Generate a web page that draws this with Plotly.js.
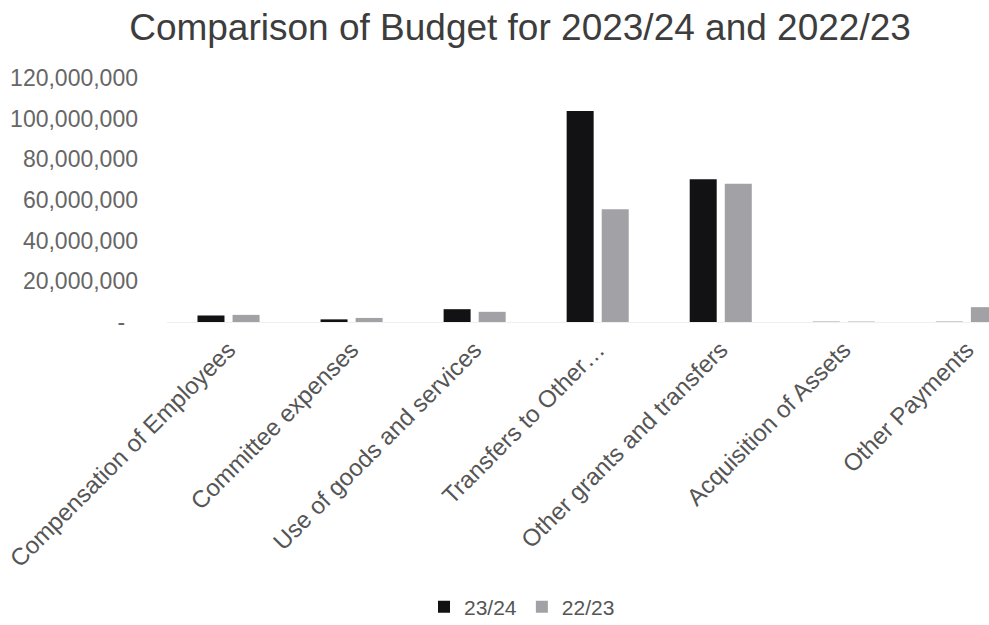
<!DOCTYPE html>
<html>
<head>
<meta charset="utf-8">
<script src="https://cdn.plot.ly/plotly-3.0.1.min.js"></script>
<style>
html,body{margin:0;padding:0;overflow:hidden;background:#fff;}
#chart{width:989px;height:625px;}
</style>
</head>
<body>
<div id="chart"></div>
<script>
const categories = [
  "Compensation of Employees",
  "Committee expenses",
  "Use of goods and services",
  "Transfers to Other…",
  "Other grants and transfers",
  "Acquisition of Assets",
  "Other Payments"
];
const budget2324 = [3200000, 1300000, 6300000, 103800000, 70200000, 100000, 100000];
const budget2223 = [3500000, 2000000, 5000000, 55400000, 68000000, 200000, 7300000];
const yTickVals = [0, 20000000, 40000000, 60000000, 80000000, 100000000, 120000000];
const yTickText = ["-\u00a0\u00a0", "20,000,000", "40,000,000", "60,000,000", "80,000,000", "100,000,000", "120,000,000"];

const traces = [
  {type: "bar", name: "23/24", x: categories.map((c, i) => i), y: budget2324,
   marker: {color: "#121214"}, hoverinfo: "y"},
  {type: "bar", name: "22/23", x: categories.map((c, i) => i), y: budget2223,
   marker: {color: "#a2a2a6"}, hoverinfo: "y"}
];

const layout = {
  width: 989, height: 625,
  paper_bgcolor: "#fff", plot_bgcolor: "#fff",
  margin: {l: 167, r: 0, t: 78, b: 303, pad: 0},
  font: {family: "Liberation Sans, Arial, sans-serif", color: "#595959"},
  title: {text: "Comparison of Budget for 2023/24 and 2022/23",
          font: {size: 37, color: "#3d3d3d"},
          xref: "container", x: 520/989, xanchor: "center",
          yref: "container", y: 1 - 27/625, yanchor: "middle"},
  barmode: "group",
  bargap: 0.43,
  bargroupgap: 0.23,
  xaxis: {
    range: [-0.5, 6.18],
    tickvals: categories.map((c, i) => i),
    ticktext: categories,
    tickangle: -45,
    tickfont: {size: 24, color: "#555"},
    showgrid: false, zeroline: false, showline: false, ticks: "",
    ticklabelstandoff: 8,
    fixedrange: true
  },
  yaxis: {
    range: [0, 120000000],
    tickvals: yTickVals,
    ticktext: yTickText,
    tickfont: {size: 23, color: "#666"},
    showgrid: false, zeroline: true, zerolinecolor: "#efefef", zerolinewidth: 1,
    showline: false, ticks: "",
    ticklabelstandoff: 28,
    fixedrange: true
  },
  showlegend: true,
  legend: {orientation: "h", xref: "container", x: 522/989, xanchor: "center",
           yref: "container", y: 1 - 607/625, yanchor: "middle",
           font: {size: 21, color: "#555"}, itemwidth: 30, traceorder: "normal"}
};

Plotly.newPlot("chart", traces, layout, {displayModeBar: false, staticPlot: true});
</script>
</body>
</html>
